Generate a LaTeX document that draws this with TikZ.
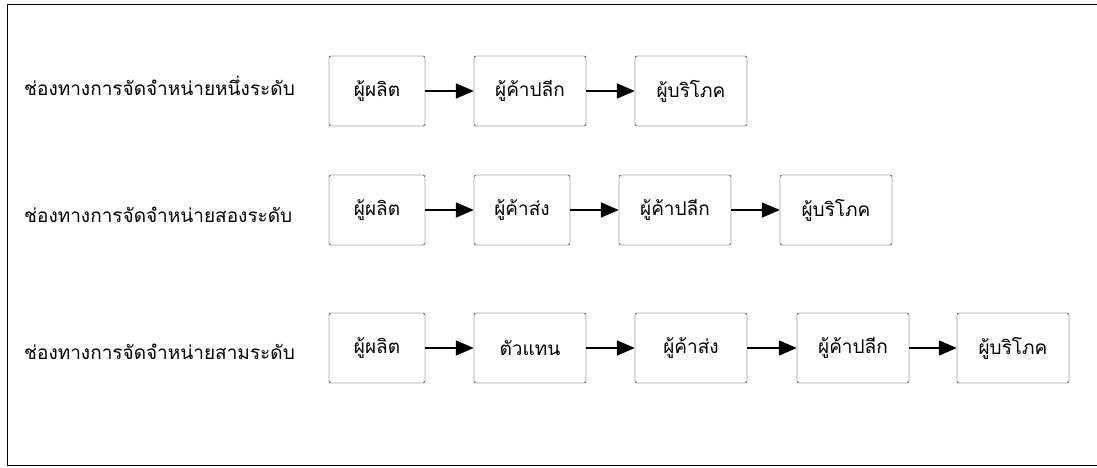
\documentclass[tikz,border=0pt]{standalone}
\usepackage{fontspec}
\newfontfamily\thaifont[Script=Thai]{Loma}
\usetikzlibrary{arrows.meta, positioning}

\begin{document}
\begin{tikzpicture}[
    x=1pt, y=-1pt,
    box/.style={rectangle, draw, rounded corners=2pt, minimum width=112pt, minimum height=70pt,
                align=center, font=\thaifont\fontsize{19}{22}\selectfont, inner sep=0pt},
    narrow/.style={box, minimum width=96pt},
    level/.style={anchor=west, font=\thaifont\fontsize{19}{22}\selectfont, inner sep=0pt},
    arrow/.style={-{Triangle[length=18pt, width=15pt]}, line width=1.8pt}
]
    \useasboundingbox (0,0) rectangle (1097,467);

    % frame
    \draw[line width=1pt] (1097,4) -- (7,4) -- (7,465) -- (1097,465);

    % one level
    \node[level] (lab1) at (24,86) {ช่องทางการจัดจำหน่ายหนึ่งระดับ};
    \node[narrow] (prod1)   at (377,91)  {ผู้ผลิต};
    \node[box]    (retail1) at (530,91)  {ผู้ค้าปลีก};
    \node[box]    (cons1)   at (691,91)  {ผู้บริโภค};

    \draw[arrow] (prod1)   -- (retail1);
    \draw[arrow] (retail1) -- (cons1);

    % two levels
    \node[level] (lab2) at (24,215) {ช่องทางการจัดจำหน่ายสองระดับ};
    \node[narrow] (prod2)   at (377,210) {ผู้ผลิต};
    \node[narrow] (whole2)  at (522,210) {ผู้ค้าส่ง};
    \node[box]    (retail2) at (675,210) {ผู้ค้าปลีก};
    \node[box]    (cons2)   at (836,210) {ผู้บริโภค};

    \draw[arrow] (prod2)   -- (whole2);
    \draw[arrow] (whole2)  -- (retail2);
    \draw[arrow] (retail2) -- (cons2);

    % three levels
    \node[level] (lab3) at (24,352) {ช่องทางการจัดจำหน่ายสามระดับ};
    \node[narrow] (prod3)   at (377,348)  {ผู้ผลิต};
    \node[box]    (agent3)  at (530,348)  {ตัวแทน};
    \node[box]    (whole3)  at (691,348)  {ผู้ค้าส่ง};
    \node[box]    (retail3) at (853,348)  {ผู้ค้าปลีก};
    \node[box]    (cons3)   at (1013,348) {ผู้บริโภค};

    \draw[arrow] (prod3)   -- (agent3);
    \draw[arrow] (agent3)  -- (whole3);
    \draw[arrow] (whole3)  -- (retail3);
    \draw[arrow] (retail3) -- (cons3);

\end{tikzpicture}
\end{document}
